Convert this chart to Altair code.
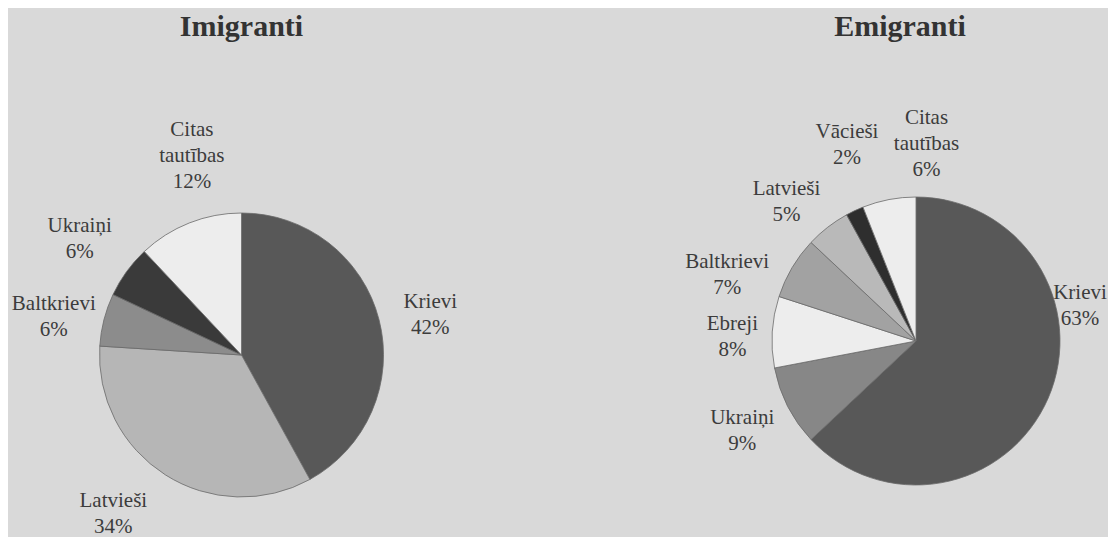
import math
import altair as alt
import pandas as pd

# ---- data ----
imi_names = ["Krievi", "Latvieši", "Baltkrievi", "Ukraiņi", "Citas tautības"]
imi_values = [42, 34, 6, 6, 12]
imi_labels = ["Krievi\n42%", "Latvieši\n34%", "Baltkrievi\n6%", "Ukraiņi\n6%", "Citas\ntautības\n12%"]

emi_names = ["Krievi", "Ukraiņi", "Ebreji", "Baltkrievi", "Latvieši", "Vācieši", "Citas tautības"]
emi_values = [63, 9, 8, 7, 5, 2, 6]
emi_labels = ["Krievi\n63%", "Ukraiņi\n9%", "Ebreji\n8%", "Baltkrievi\n7%", "Latvieši\n5%", "Vācieši\n2%", "Citas\ntautības\n6%"]

# ---- styles ----
imi_colors = ["#585858", "#b6b6b6", "#8c8c8c", "#3a3a3a", "#ededed"]
emi_colors = ["#585858", "#878787", "#ededed", "#a2a2a2", "#b9b9b9", "#2e2e2e", "#ededed"]
SERIF = "Liberation Serif"
TXT = "#3c3c3c"
BG = "#d9d9d9"
LINE_H = 26

# label nudges of each label block centre (layout only)
imi_nudge = {"Krievi": (-5, 10), "Latvieši": (-21, -10), "Baltkrievi": (6, 12),
             "Ukraiņi": (0, 2), "Citas tautības": (24, -13)}
emi_nudge = {"Krievi": (-15, -112), "Ukraiņi": (0, 1), "Ebreji": (11, 8),
             "Baltkrievi": (-21, 33), "Latvieši": (-10, 15), "Vācieši": (14, -20),
             "Citas tautības": (47, -5)}


def make_df(names, values, labels):
    return pd.DataFrame({"name": names, "value": values, "label": labels,
                         "order": list(range(len(names)))})


def pie(df, colors, cx, cy, radius, label_r, nudges, w, h, title, title_dx=0):
    theta_scale = alt.Scale(domain=[0, 100], range=[0, 2 * math.pi])
    arcs = alt.Chart(df).mark_arc(
        outerRadius=radius, stroke="#6a6a6a", strokeWidth=0.8
    ).encode(
        theta=alt.Theta("value:Q", stack=True, scale=theta_scale),
        order=alt.Order("order:Q"),
        color=alt.Color("name:N", scale=alt.Scale(domain=list(df["name"]), range=colors), legend=None),
        x=alt.value(cx),
        y=alt.value(cy),
    )
    layers = [arcs]
    label_of = dict(zip(df["name"], df["label"]))
    for nm, (dx, dy) in nudges.items():
        n_lines = label_of[nm].count("\n") + 1
        t = alt.Chart(df).transform_window(
            cum="sum(value)", sort=[alt.SortField("order")]
        ).transform_calculate(
            mid="datum.cum - datum.value / 2"
        ).transform_filter(
            alt.datum.name == nm
        ).mark_text(
            radius=label_r, dx=dx, dy=dy - (n_lines - 1) * LINE_H / 2,
            font=SERIF, fontSize=21, lineHeight=LINE_H,
            color=TXT, lineBreak="\n", align="center", baseline="middle"
        ).encode(
            theta=alt.Theta("mid:Q", stack=None, scale=theta_scale),
            text="label:N",
            x=alt.value(cx),
            y=alt.value(cy),
        )
        layers.append(t)
    return alt.layer(*layers).properties(
        width=w, height=h,
        title=alt.TitleParams(title, font=SERIF, fontSize=30, fontWeight="bold",
                              color="#333333", anchor="middle", offset=4, dx=title_dx),
    )


left = pie(make_df(imi_names, imi_values, imi_labels), imi_colors, 233.5, 309, 142, 200, imi_nudge,
           467, 488, "Imigranti")
right = pie(make_df(emi_names, emi_values, emi_labels), emi_colors, 236, 295, 144, 195, emi_nudge,
            428, 488, "Emigranti", title_dx=6)

chart = alt.hconcat(left, right, spacing=205).resolve_scale(
    color="independent", theta="independent"
).properties(
    padding={"left": 0, "top": 4, "right": 0, "bottom": 0}, background=BG
).configure_view(stroke=None)

chart.save("out.html", embed_options={"renderer": "svg", "actions": False})
